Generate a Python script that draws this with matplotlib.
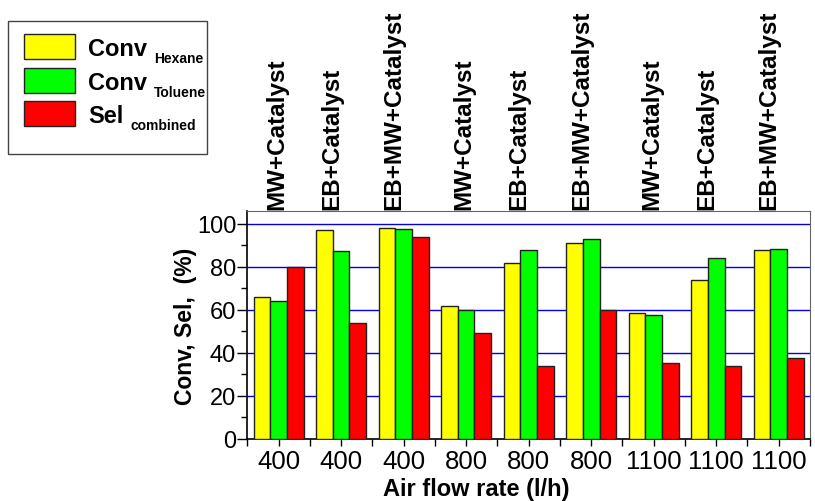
import numpy as np
import matplotlib
matplotlib.use("Agg")
import matplotlib.pyplot as plt
from matplotlib.patches import Rectangle
from matplotlib.ticker import MultipleLocator

plt.rcParams['font.family'] = ['Liberation Sans', 'DejaVu Sans']

flow_rates = ['400', '400', '400', '800', '800', '800', '1100', '1100', '1100']
methods = ['MW+Catalyst', 'EB+Catalyst', 'EB+MW+Catalyst',
           'MW+Catalyst', 'EB+Catalyst', 'EB+MW+Catalyst',
           'MW+Catalyst', 'EB+Catalyst', 'EB+MW+Catalyst']
conv_hexane = [66, 97, 98, 62, 82, 91, 58.5, 74, 87.7]
conv_toluene = [64, 87.3, 97.7, 60, 87.7, 92.8, 57.8, 84, 88.3]
sel_combined = [80, 54, 94, 49.2, 34, 60, 35.5, 34, 37.7]

series = [conv_hexane, conv_toluene, sel_combined]
colors = ['#ffff00', '#00ff00', '#ff0000']
legend_main = ['Conv', 'Conv', 'Sel']
legend_sub = ['Hexane', 'Toluene', 'combined']

W, H = 815, 502
fig = plt.figure(figsize=(W / 100, H / 100), dpi=100)
ax = fig.add_axes([247.3 / W, 1 - 440 / H, (810 - 247.3) / W, (440 - 212) / H])

x = np.arange(len(flow_rates))
w = 0.8 / 3
for k, (vals, c) in enumerate(zip(series, colors)):
    ax.bar(x + (k - 1) * w, vals, width=w, color=c, edgecolor='#222222',
           linewidth=1.0, zorder=3)

ax.set_xlim(-0.5, len(flow_rates) - 0.5)
ax.set_ylim(0, 106)
ax.set_xticks(x)
ax.set_xticklabels(flow_rates, fontsize=18.5)
ax.set_xticks(np.arange(-0.5, len(flow_rates)), minor=True)
ax.tick_params(axis='x', which='both', length=5, direction='out', width=1,
               pad=2)

ax.set_yticks(np.arange(0, 101, 20))
ax.yaxis.set_minor_locator(MultipleLocator(10))
ax.tick_params(axis='y', which='major', length=7, width=1, direction='out',
               labelsize=17, pad=1)
ax.tick_params(axis='y', which='minor', length=4, width=1, direction='out')

for yv in range(20, 101, 20):
    ax.axhline(yv, color='#0000ee', linewidth=1.0, zorder=1)

for side in ['top', 'right']:
    ax.spines[side].set_color('#666666')
for side in ['left', 'bottom']:
    ax.spines[side].set_color('black')
    ax.spines[side].set_linewidth(1.2)

ax.set_xlabel('Air flow rate (l/h)', fontsize=17, fontweight='bold')
ax.xaxis.set_label_coords((476 - 247.3) / (810 - 247.3), -(478 - 440) / 228)
ax.set_ylabel('Conv, Sel,  (%)', fontsize=16.5, fontweight='bold', labelpad=0)

for xi, m in zip(x, methods):
    dx = -0.15 if m.startswith('EB') else -0.03
    ax.text(xi + dx, 106.8, m, rotation=90, ha='center', va='bottom',
            fontsize=17.5, fontweight='bold', clip_on=False)

# legend panel in the upper-left corner of the figure (pixel layout)
def fx(px):
    return px / W

def fy(py):
    return 1 - py / H

fig.patches.append(Rectangle((fx(8), fy(155)), fx(199), 133 / H,
                             transform=fig.transFigure, facecolor='white',
                             edgecolor='#444444', linewidth=1.0))
key_tops = [35, 69, 102]
fig.canvas.draw()
renderer = fig.canvas.get_renderer()
for top, c, main, sub in zip(key_tops, colors, legend_main, legend_sub):
    fig.patches.append(Rectangle((fx(24), fy(top + 25)), fx(51), 25 / H,
                                 transform=fig.transFigure, facecolor=c,
                                 edgecolor='#222222', linewidth=1.0))
    base = top + 21
    t = fig.text(fx(88), fy(base), main, fontsize=17, fontweight='bold',
                 va='baseline', ha='left')
    bb = t.get_window_extent(renderer)
    fig.text(bb.x1 / W + fx(7), fy(base + 7), sub, fontsize=10,
             fontweight='bold', va='baseline', ha='left')

fig.savefig('out.png', dpi=100)
